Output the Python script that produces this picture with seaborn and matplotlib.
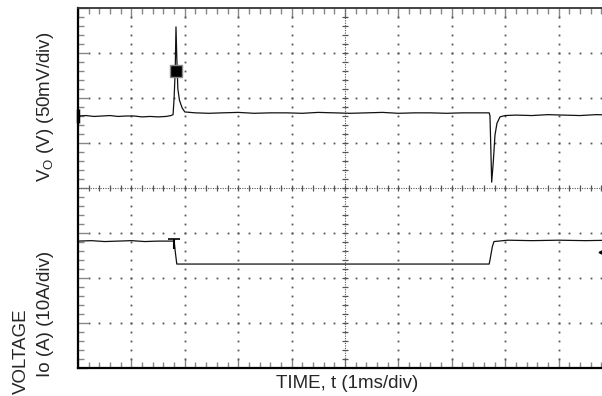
import numpy as np
import pandas as pd
import matplotlib
matplotlib.use("Agg")
import matplotlib.pyplot as plt
import seaborn as sns

# ======================
# DATA (time in ms, amplitude in screen divisions)
# ======================
vo_t = [0.00, 0.15, 0.30, 0.45, 0.60, 0.75, 0.90, 1.05, 1.20, 1.35, 1.50, 1.65,
        1.74, 1.78, 1.80, 1.82, 1.835, 1.85, 1.87, 1.90, 1.95, 2.00, 2.20, 2.45,
        2.70, 3.00, 3.30, 3.60, 3.90, 4.20, 4.50, 4.80, 5.10, 5.40, 5.70, 6.00,
        6.30, 6.60, 6.90, 7.20, 7.50, 7.70, 7.715, 7.747, 7.777, 7.809, 7.846,
        7.903, 7.996, 8.20, 8.50, 8.80, 9.10, 9.40, 9.70, 10.00]
vo_v = [1.60, 1.61, 1.59, 1.60, 1.61, 1.59, 1.60, 1.60, 1.58, 1.59, 1.58, 1.59,
        1.61, 1.63, 2.00, 2.60, 3.58, 2.90, 2.20, 1.95, 1.78, 1.69, 1.67, 1.66,
        1.67, 1.68, 1.66, 1.67, 1.67, 1.66, 1.68, 1.67, 1.66, 1.67, 1.68, 1.66,
        1.67, 1.67, 1.66, 1.67, 1.67, 1.67, 1.60, 0.13, 0.58, 1.18, 1.44,
        1.58, 1.61, 1.62, 1.61, 1.63, 1.62, 1.61, 1.63, 1.62]

io_t = [0.00, 0.25, 0.50, 0.75, 1.00, 1.25, 1.50, 1.70, 1.80, 1.82, 1.85, 2.50,
        3.50, 4.50, 5.50, 6.50, 7.70, 7.715, 7.76, 7.79, 8.05, 8.50, 9.00, 9.50,
        10.00]
io_v = [-1.18, -1.17, -1.19, -1.18, -1.17, -1.19, -1.18, -1.18, -1.18, -1.40,
        -1.69, -1.69, -1.69, -1.69, -1.69, -1.69, -1.69, -1.60, -1.30, -1.19,
        -1.16, -1.17, -1.16, -1.17, -1.16]

# scope markers
cursor_t = [1.83]
cursor_v = [2.60]
trig_t = [1.80]
trig_v = [-1.13]
gnd_v = [1.60]
arrow_t = [9.80]
arrow_v = [-1.42]

vo = pd.DataFrame({"t": vo_t, "v": vo_v})
io = pd.DataFrame({"t": io_t, "v": io_v})

# ======================
# FIGURE
# ======================
sns.set_style("white")
plt.rcParams["font.family"] = ["Liberation Sans", "DejaVu Sans"]
plt.rcParams["mathtext.fontset"] = "custom"
plt.rcParams["mathtext.rm"] = "Liberation Sans"

W, H = 602, 396
fig = plt.figure(figsize=(W / 100, H / 100), dpi=100)
ax = fig.add_axes([78 / W, (H - 368) / H, 534 / W, 360 / H])
ax.set_xlim(0, 10)
ax.set_ylim(-4, 4)

# graticule dots
minor_x = np.round(np.arange(0.2, 10, 0.2), 3)
minor_y = np.round(np.arange(-3.8, 4, 0.2), 3)
for yy in [-3, -2, -1, 1, 2, 3]:
    ax.plot(minor_x, np.full_like(minor_x, yy), ls="none", marker="s",
            ms=1.3, mew=0, color="#555", zorder=1)
for xx in [1, 2, 3, 4, 6, 7, 8, 9]:
    ax.plot(np.full_like(minor_y, xx), minor_y, ls="none", marker="s",
            ms=1.3, mew=0, color="#555", zorder=1)

# centre cross
ax.axhline(0, color="#555", lw=0.8, ls=(0, (1, 1.2)), zorder=1)
ax.axvline(5, color="#555", lw=0.8, ls=(0, (1, 1.2)), zorder=1)
ax.plot(minor_x, np.zeros_like(minor_x), ls="none", marker="|", ms=5,
        mew=0.9, color="#555", zorder=1)
ax.plot(np.full_like(minor_y, 5), minor_y, ls="none", marker="_", ms=5,
        mew=0.9, color="#555", zorder=1)

# traces
sns.lineplot(data=vo, x="t", y="v", ax=ax, color="#111", lw=0.9, sort=False,
             estimator=None, zorder=3)
sns.lineplot(data=io, x="t", y="v", ax=ax, color="#111", lw=0.9, sort=False,
             estimator=None, zorder=3)

# markers
ax.plot(cursor_t, cursor_v, ls="none", marker="s", ms=9, color="black",
        mec="#888", mew=1, zorder=4)
ax.plot(trig_t, trig_v, ls="none", marker="_", ms=8, color="black", mew=1.2,
        zorder=4)
ax.plot(trig_t, trig_v, ls="none", marker=3, ms=7, color="black", mew=1.5,
        zorder=4)
ax.plot([0], gnd_v, ls="none", marker="|", ms=10, color="black", mew=2.5,
        clip_on=False, zorder=5)
ax.plot(arrow_t, arrow_v, ls="none", marker="<", ms=3.5, color="black",
        zorder=4)

# ticks / frame
ax.set_xticks(range(0, 11))
ax.set_yticks(range(-4, 5))
ax.set_xticks(minor_x, minor=True)
ax.set_yticks(minor_y, minor=True)
ax.tick_params(which="both", direction="in", top=True, right=True,
               bottom=True, left=True, labelbottom=False, labelleft=False,
               color="#888")
ax.tick_params(which="major", length=7, width=1)
ax.tick_params(which="minor", length=4, width=1)
ax.set_xlabel("")
ax.set_ylabel("")
for side in ["left", "bottom"]:
    ax.spines[side].set_color("black")
    ax.spines[side].set_linewidth(1.6)
ax.spines["top"].set_color("#333")
ax.spines["top"].set_linewidth(1.3)
ax.spines["right"].set_color("#333")

# labels
fs = 13.5
fig.text(347 / W, 1 - 383 / H, "TIME, t (1ms/div)", ha="center", va="center",
         fontsize=fs)
fig.text(46 / W, 1 - 107 / H, r"V$_\mathregular{O}$ (V) (50mV/div)",
         rotation=90, ha="center", va="center", fontsize=fs)
fig.text(45 / W, 1 - 314 / H, "Io (A) (10A/div)", rotation=90, ha="center",
         va="center", fontsize=fs)
fig.text(21 / W, 1 - 351 / H, "VOLTAGE", rotation=90, ha="center",
         va="center", fontsize=fs)

fig.savefig("out.png", dpi=100)
